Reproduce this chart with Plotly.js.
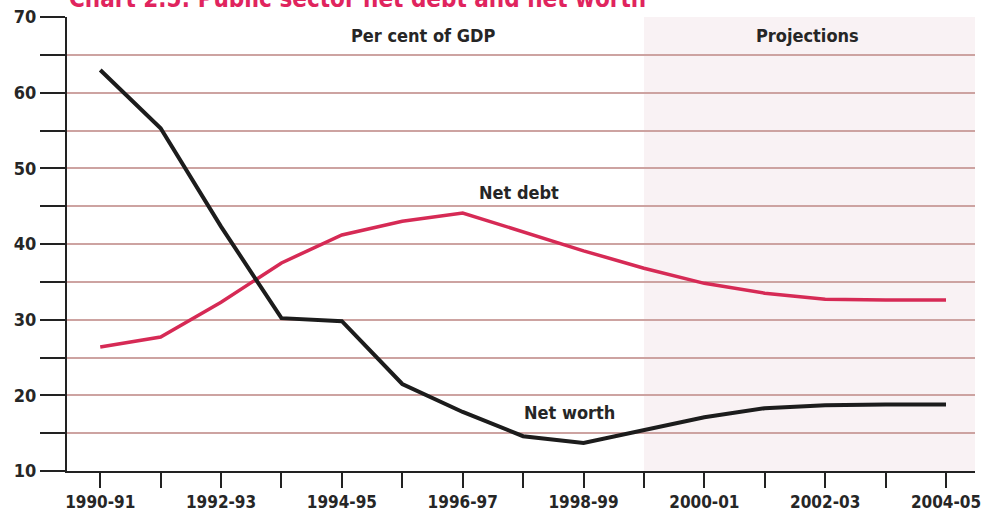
<!DOCTYPE html>
<html>
<head>
<meta charset="utf-8">
<script src="https://cdn.plot.ly/plotly-3.0.1.min.js"></script>
<style>
  html, body { margin: 0; padding: 0; background: #ffffff; }
  #chart { width: 987px; height: 520px; }
</style>
</head>
<body>
<div id="chart"></div>
<script>
// Fiscal years (categories)
const years = ["1990-91","1991-92","1992-93","1993-94","1994-95","1995-96","1996-97","1997-98",
               "1998-99","1999-00","2000-01","2001-02","2002-03","2003-04","2004-05"];
// Tick labels shown under every other year
const yearLabels = ["1990-91","","1992-93","","1994-95","","1996-97","","1998-99","","2000-01","","2002-03","","2004-05"];
// Per cent of GDP
const netDebt  = [26.4, 27.7, 32.3, 37.5, 41.2, 43.0, 44.1, 41.6, 39.1, 36.8, 34.8, 33.5, 32.7, 32.6, 32.6];
const netWorth = [63.0, 55.3, 42.3, 30.2, 29.8, 21.5, 17.8, 14.6, 13.7, 15.4, 17.1, 18.3, 18.7, 18.8, 18.8];
// Y tick values / labels
const yTickVals = [10,15,20,25,30,35,40,45,50,55,60,65,70];
const yTickText = ["10","","20","","30","","40","","50","","60","","70"];
const projectionStart = "1999-00";

const font = "'DejaVu Sans Condensed', 'DejaVu Sans', sans-serif";
const txt = {family: font, size: 18, color: "#262626", weight: "bold"};

const traces = [
  {x: years, y: netDebt, type: "scatter", mode: "lines", name: "Net debt",
   line: {color: "#d62a55", width: 3.5}},
  {x: years, y: netWorth, type: "scatter", mode: "lines", name: "Net worth",
   line: {color: "#1c1c1c", width: 4}}
];

const layout = {
  width: 987, height: 520,
  margin: {l: 67, r: 12, t: 17, b: 49},
  paper_bgcolor: "#ffffff", plot_bgcolor: "#ffffff",
  showlegend: false,
  font: txt,
  xaxis: {
    type: "category", categoryorder: "array", categoryarray: years,
    range: [-0.55, 14.48],
    tickmode: "array", tickvals: years, ticktext: yearLabels,
    ticks: "outside", ticklen: 15, tickwidth: 2, tickcolor: "#222",
    showline: true, linecolor: "#222", linewidth: 2,
    showgrid: false, zeroline: false,
    tickfont: {family: font, size: 17, color: "#262626", weight: "bold"}
  },
  yaxis: {
    range: [10, 70],
    tickmode: "array", tickvals: yTickVals, ticktext: yTickText,
    ticks: "outside", ticklen: 25, tickwidth: 2, tickcolor: "#222",
    showline: true, linecolor: "#222", linewidth: 2,
    showgrid: true, gridcolor: "#cda3a1", gridwidth: 2,
    zeroline: false,
    tickfont: {family: font, size: 18, color: "#262626", weight: "bold"}
  },
  shapes: [
    {type: "rect", xref: "x", yref: "paper", x0: projectionStart, x1: 14.48, y0: 0, y1: 1,
     fillcolor: "#f9f2f4", line: {width: 0}, layer: "below"}
  ],
  annotations: [
    {text: "Per cent of GDP", xref: "x", yref: "y", x: "1995-96", y: 67.6, xshift: 21,
     showarrow: false, font: txt},
    {text: "Projections", xref: "x", yref: "y", x: "2001-02", y: 67.6, xshift: 43,
     showarrow: false, font: txt},
    {text: "Net debt", xref: "x", yref: "y", x: "1997-98", y: 46.8, xshift: -4,
     showarrow: false, font: txt},
    {text: "Net worth", xref: "x", yref: "y", x: "1998-99", y: 17.7, xshift: -14,
     showarrow: false, font: txt},
    {text: "Chart 2.5: Public sector net debt and net worth", xref: "paper", yref: "paper",
     x: 0, y: 1, xanchor: "left", yanchor: "bottom", yshift: 2, showarrow: false,
     font: {family: font, size: 24, color: "#e0245e", weight: "bold"}}
  ]
};

Plotly.newPlot("chart", traces, layout, {displayModeBar: false, staticPlot: true});
</script>
</body>
</html>
